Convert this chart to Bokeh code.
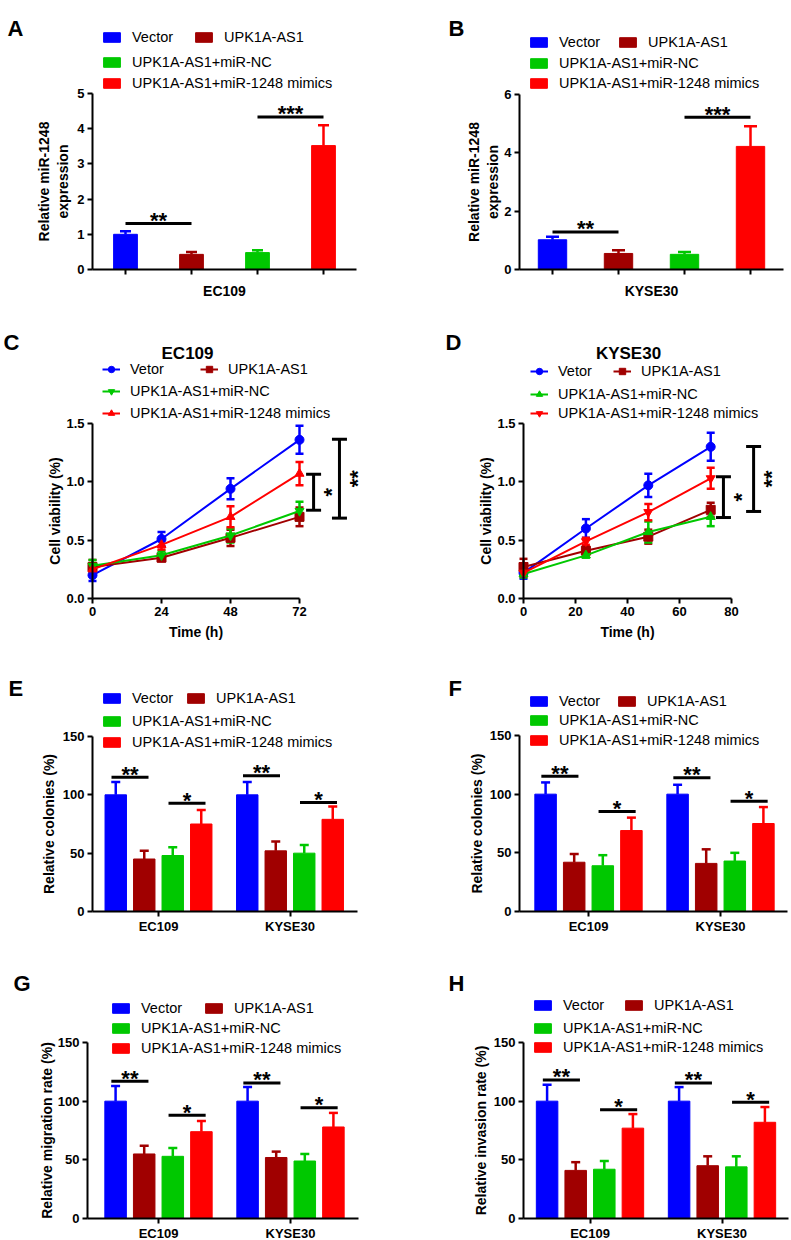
import math
from bokeh.plotting import figure
from bokeh.models import (Range1d, FixedTicker, Legend, LegendItem, Label,
                          Whisker, TeeHead, ColumnDataSource, NumeralTickFormatter)
from bokeh.layouts import column, row
from bokeh.embed import file_html
from bokeh.resources import INLINE
from bokeh.core.properties import value

FONT = "Liberation Sans"
COLORS = ["#0000FF", "#A00000", "#00C800", "#FF0000"]

# ------------------------------------------------------------------ data
treatments = ["Vector", "UPK1A-AS1", "UPK1A-AS1+miR-NC", "UPK1A-AS1+miR-1248 mimics"]
line_labels = ["Vetor", "UPK1A-AS1", "UPK1A-AS1+miR-NC", "UPK1A-AS1+miR-1248 mimics"]
cell_lines = ["EC109", "KYSE30"]

# A / B : relative miR-1248 expression (mean, SD)
A_mean = [1.00, 0.43, 0.48, 3.52]
A_sd = [0.09, 0.07, 0.07, 0.58]
A_sig = [(0, 1, 1.31, "**"), (2, 3, 4.33, "***")]
A_yticks = [0, 1, 2, 3, 4, 5]

B_mean = [1.02, 0.55, 0.52, 4.22]
B_sd = [0.10, 0.11, 0.08, 0.69]
B_sig = [(0, 1, 1.29, "**"), (2, 3, 5.22, "***")]
B_yticks = [0, 2, 4, 6]

# C / D : cell viability over time
hours = [0, 24, 48, 72]
C_vector = [0.20, 0.51, 0.94, 1.36]
C_vector_sd = [0.05, 0.06, 0.09, 0.12]
C_upk = [0.27, 0.35, 0.52, 0.70]
C_upk_sd = [0.06, 0.03, 0.07, 0.08]
C_nc = [0.28, 0.37, 0.54, 0.75]
C_nc_sd = [0.05, 0.04, 0.06, 0.08]
C_mimics = [0.25, 0.46, 0.70, 1.07]
C_mimics_sd = [0.05, 0.04, 0.09, 0.10]
C_brackets = [(76.9, 0.757, 1.066, "*"), (85.9, 0.689, 1.366, "**")]
C_xticks = [0, 24, 48, 72]

D_vector = [0.22, 0.60, 0.97, 1.30]
D_vector_sd = [0.05, 0.08, 0.10, 0.12]
D_upk = [0.27, 0.41, 0.53, 0.76]
D_upk_sd = [0.07, 0.03, 0.06, 0.06]
D_nc = [0.21, 0.37, 0.57, 0.70]
D_nc_sd = [0.03, 0.02, 0.09, 0.08]
D_mimics = [0.22, 0.49, 0.74, 1.03]
D_mimics_sd = [0.03, 0.03, 0.07, 0.09]
D_brackets = [(76.9, 0.694, 1.043, "*"), (88.5, 0.746, 1.303, "**")]
D_xticks = [0, 20, 40, 60, 80]
viab_yticks = [0, 0.5, 1.0, 1.5]

# E-H : grouped bars (per cell line: Vector, UPK1A-AS1, +miR-NC, +mimics)
E_ec109 = [100, 45, 48, 75]
E_ec109_sd = [11, 7, 7, 12]
E_kyse30 = [100, 52, 50, 79]
E_kyse30_sd = [11, 8, 7, 11]
E_sig = [(0, 0, 1, 115.0, "**"), (0, 2, 3, 92.7, "*"), (1, 0, 1, 116.3, "**"), (1, 2, 3, 93.5, "*")]

F_ec109 = [100, 42, 39, 69]
F_ec109_sd = [10, 7, 9, 11]
F_kyse30 = [100, 41, 43, 75]
F_kyse30_sd = [8, 12, 7, 14]
F_sig = [(0, 0, 1, 115.3, "**"), (0, 2, 3, 85.2, "*"), (1, 0, 1, 114.0, "**"), (1, 2, 3, 94.0, "*")]

G_ec109 = [100, 55, 53, 74]
G_ec109_sd = [13, 7, 7, 9]
G_kyse30 = [100, 52, 49, 78]
G_kyse30_sd = [12, 5, 6, 12]
G_sig = [(0, 0, 1, 117.0, "**"), (0, 2, 3, 88.0, "*"), (1, 0, 1, 115.5, "**"), (1, 2, 3, 94.4, "*")]

H_ec109 = [100, 41, 42, 77]
H_ec109_sd = [14, 7, 7, 12]
H_kyse30 = [100, 45, 44, 82]
H_kyse30_sd = [12, 8, 9, 13]
H_sig = [(0, 0, 1, 118.0, "**"), (0, 2, 3, 92.7, "*"), (1, 0, 1, 115.5, "**"), (1, 2, 3, 99.0, "*")]
pct_yticks = [0, 50, 100, 150]


# ------------------------------------------------------------------ helpers
class Geo:
    """Maps page pixels of a cell to data coordinates (frame == whole cell)."""

    def __init__(self, cell, xmap, ymap):
        self.cx, self.cy, self.cw, self.ch = cell
        pa, da, pb, db = xmap
        self.kx = (db - da) / (pb - pa)
        self.x0 = da - pa * self.kx
        qa, ea, qb, eb = ymap
        self.ky = (eb - ea) / (qb - qa)
        self.y0 = ea - qa * self.ky

    def dx(self, px):
        return self.x0 + px * self.kx

    def dy(self, py):
        return self.y0 + py * self.ky

    def xpp(self):
        return self.kx

    def ypp(self):
        return -self.ky

    def sx(self, px):
        return px - self.cx

    def sy(self, py):
        return self.cy + self.ch - py

    def xr(self):
        return (self.dx(self.cx), self.dx(self.cx + self.cw))

    def yr(self):
        return (self.dy(self.cy + self.ch), self.dy(self.cy))


def style_axis(ax):
    ax.axis_line_width = 2
    ax.axis_line_color = "black"
    ax.major_tick_line_width = 2
    ax.major_tick_line_color = "black"
    ax.major_tick_out = 5
    ax.major_tick_in = 0
    ax.minor_tick_line_color = None
    ax.major_label_text_font = FONT
    ax.major_label_text_font_style = "bold"
    ax.major_label_text_font_size = "13px"
    ax.major_label_text_color = "black"
    ax.major_label_standoff = 3
    ax.axis_label_text_font = FONT
    ax.axis_label_text_font_style = "bold"
    ax.axis_label_text_font_size = "14px"
    ax.axis_label_text_color = "black"


def make_fig(cell, xmap, ymap, yaxis_px, xaxis_bounds_px, ymax):
    g = Geo(cell, xmap, ymap)
    p = figure(width=g.cw, height=g.ch, x_range=Range1d(*g.xr()), y_range=Range1d(*g.yr()),
               output_backend="svg", toolbar_location=None, tools="",
               min_border_left=0, min_border_right=0, min_border_top=0, min_border_bottom=0)
    p.outline_line_color = None
    p.xgrid.visible = False
    p.ygrid.visible = False
    p.title.visible = False
    p.background_fill_color = "white"
    p.border_fill_color = "white"
    for ax in p.axis:
        style_axis(ax)
    p.yaxis.fixed_location = g.dx(yaxis_px)
    p.yaxis.bounds = (0, ymax)
    p.xaxis.fixed_location = 0
    p.xaxis.bounds = (g.dx(xaxis_bounds_px[0]), g.dx(xaxis_bounds_px[1]))
    return p, g


def add_letter(p, g, text, px, pybase):
    p.add_layout(Label(x=g.sx(px), y=g.sy(pybase), x_units="screen", y_units="screen",
                       text=text, text_font=FONT, text_font_size="22px", text_font_style="bold",
                       text_baseline="alphabetic", text_align="left", text_color="black"))


def add_legend_item(p, g, renderers, label, gx, cy, gw, gh, dy=0.0):
    leg = Legend(items=[LegendItem(label=label, renderers=renderers)],
                 location=(g.sx(gx), g.sy(cy + dy + gh / 2.0)),
                 orientation="vertical", padding=0, margin=0, spacing=0,
                 glyph_width=gw, glyph_height=gh, label_height=gh, label_standoff=10,
                 label_text_font=FONT, label_text_font_size="14.5px", label_text_color="black",
                 border_line_color=None, background_fill_alpha=0)
    p.add_layout(leg)


def add_stars(p, g, xs, ys, texts, size="22px"):
    p.text(x=xs, y=[y + 3.2 * g.ypp() for y in ys], text=texts,
           text_font=value(FONT), text_font_size=size, text_font_style="bold",
           text_align="center", text_baseline="alphabetic", text_color="black")


def whisker(p, xs, lo, hi, color, cap, lw=2.5, lower_cap=False):
    src = ColumnDataSource(dict(x=xs, lo=lo, hi=hi))
    w = Whisker(source=src, base="x", lower="lo", upper="hi", line_color=color, line_width=lw,
                upper_head=TeeHead(size=cap, line_color=color, line_width=lw),
                lower_head=TeeHead(size=cap, line_color=color, line_width=lw) if lower_cap else None)
    p.add_layout(w)


# ------------------------------------------------------------------ panels
def single_bar_panel(cell, xpx, ypx, mean, sd, sig, yticks, ylabel, xlabel, letter, legend_pos,
                     bar_w, cap, ylab_standoff):
    ymax = yticks[-1]
    p, g = make_fig(cell, (xpx[0], -0.5, xpx[1], 3.5), (ypx[0], 0, ypx[1], ymax),
                    xpx[0], xpx, ymax)
    rends = []
    for i, c in enumerate(COLORS):
        r = p.vbar(x=[i], top=[mean[i]], width=bar_w, fill_color=c, line_color=c)
        rends.append(r)
        whisker(p, [i], [mean[i]], [mean[i] + sd[i]], c, cap)
    for (i, j, y, s) in sig:
        p.segment(x0=[i], y0=[y], x1=[j], y1=[y], line_width=3, line_color="black")
    add_stars(p, g, [(s[0] + s[1]) / 2 for s in sig], [s[2] for s in sig], [s[3] for s in sig])
    p.yaxis.ticker = FixedTicker(ticks=yticks)
    p.yaxis.axis_label = ylabel
    p.yaxis.axis_label_standoff = ylab_standoff
    p.xaxis.ticker = FixedTicker(ticks=list(range(len(treatments))))
    p.xaxis.major_label_overrides = {i: "" for i in range(len(treatments))}
    p.xaxis.axis_label = xlabel
    p.xaxis.axis_label_standoff = 8
    add_letter(p, g, *letter)
    for k, (gx, cy) in enumerate(legend_pos):
        add_legend_item(p, g, [rends[k]], treatments[k], gx, cy, 21, 12, dy=3)
    return p


def grouped_bar_panel(cell, xmap, ypx, axis_px, ec, ec_sd, ky, ky_sd, sig, ylabel, letter, legend_pos,
                      ylab_standoff):
    ymax = pct_yticks[-1]
    p, g = make_fig(cell, xmap, (ypx[0], 0, ypx[1], ymax), axis_px[0], axis_px, ymax)
    off = 0.2167
    bw = 0.163
    means = [ec, ky]
    sds = [ec_sd, ky_sd]
    rends = []
    for t, c in enumerate(COLORS):
        xs = [gi + (t - 1.5) * off for gi in range(len(cell_lines))]
        tops = [means[gi][t] for gi in range(len(cell_lines))]
        r = p.vbar(x=xs, top=tops, width=bw, fill_color=c, line_color=c)
        rends.append(r)
        whisker(p, xs, tops, [tops[gi] + sds[gi][t] for gi in range(len(cell_lines))], c, 9)
    ext = 4.25 * g.xpp()
    x0s, x1s, ys, mids, labs = [], [], [], [], []
    for (gi, i, j, y, s) in sig:
        a = gi + (i - 1.5) * off
        b = gi + (j - 1.5) * off
        x0s.append(a - ext)
        x1s.append(b + ext)
        ys.append(y)
        mids.append((a + b) / 2)
        labs.append(s)
    p.segment(x0=x0s, y0=ys, x1=x1s, y1=ys, line_width=3, line_color="black")
    add_stars(p, g, mids, ys, labs)
    p.yaxis.ticker = FixedTicker(ticks=pct_yticks)
    p.yaxis.axis_label = ylabel
    p.yaxis.axis_label_standoff = ylab_standoff
    p.xaxis.ticker = FixedTicker(ticks=list(range(len(cell_lines))))
    p.xaxis.major_label_overrides = {i: n for i, n in enumerate(cell_lines)}
    p.xaxis.major_label_standoff = 2
    add_letter(p, g, *letter)
    for k, (gx, cy) in enumerate(legend_pos):
        add_legend_item(p, g, [rends[k]], treatments[k], gx, cy, 21, 12, dy=3)
    return p


def line_panel(cell, xmap, ypx, series, markers, brackets, xticks, title, title_pos, letter, legend_pos):
    ymax = viab_yticks[-1]
    g0 = Geo(cell, xmap, (ypx[0], 0, ypx[1], ymax))
    p, g = make_fig(cell, xmap, (ypx[0], 0, ypx[1], ymax), xmap[0],
                    (xmap[0], xmap[0] + (xticks[-1] - xmap[1]) / g0.xpp()), ymax)
    p.xaxis.bounds = (xticks[0], xticks[-1])
    rends = []
    for k, (m, s) in enumerate(series):
        c = COLORS[k]
        lr = p.line(hours, m, line_color=c, line_width=2)
        whisker(p, hours, [a - b for a, b in zip(m, s)], [a + b for a, b in zip(m, s)], c, 8,
                lw=2.5, lower_cap=True)
        sr = p.scatter(hours, m, marker=markers[k], size=9, fill_color=c, line_color=c)
        rends.append([lr, sr])
    bsrc = ColumnDataSource(dict(x=[b[0] for b in brackets], lo=[b[1] for b in brackets],
                                 hi=[b[2] for b in brackets]))
    p.add_layout(Whisker(source=bsrc, base="x", lower="lo", upper="hi", line_color="black",
                         line_width=3,
                         upper_head=TeeHead(size=15, line_color="black", line_width=3),
                         lower_head=TeeHead(size=15, line_color="black", line_width=3)))
    # rotated asterisks to the right of each bracket
    sx = [b[0] + 18.0 * g.xpp() for b in brackets]
    sy = [(b[1] + b[2]) / 2 for b in brackets]
    p.text(x=sx, y=sy, text=[b[3] for b in brackets], angle=math.pi / 2,
           text_font=value(FONT), text_font_size="22px", text_font_style="bold",
           text_align="center", text_baseline="alphabetic", text_color="black")
    p.yaxis.ticker = FixedTicker(ticks=viab_yticks)
    p.yaxis.formatter = NumeralTickFormatter(format="0.0")
    p.yaxis.axis_label = "Cell viability (%)"
    p.yaxis.axis_label_standoff = 0
    p.xaxis.ticker = FixedTicker(ticks=xticks)
    p.xaxis.axis_label = "Time (h)"
    p.xaxis.axis_label_standoff = 5
    p.add_layout(Label(x=g.sx(title_pos[0]), y=g.sy(title_pos[1]), x_units="screen", y_units="screen",
                       text=title, text_font=FONT, text_font_size="17px", text_font_style="bold",
                       text_align="center", text_baseline="middle", text_color="black"))
    add_letter(p, g, *letter)
    for k, (gx, cy) in enumerate(legend_pos):
        add_legend_item(p, g, rends[k], line_labels[k], gx, cy, 18, 16)
    return p


# cells (page px): columns and rows
colL = (0, 395)
colR = (395, 396)
rows_y = [(0, 310), (310, 345), (655, 290), (945, 295)]


def cell(col, r):
    return (col[0], rows_y[r][0], col[1], rows_y[r][1])


pA = single_bar_panel(cell(colL, 0), (92, 356), (269, 93), A_mean, A_sd, A_sig, A_yticks,
                      "Relative miR-1248\nexpression", "EC109", ("A", 7, 28),
                      [(101, 36), (193, 36), (101, 60.5), (101, 81.5)], 0.36, 11, 3)
pB = single_bar_panel(cell(colR, 0), (519, 783), (269, 94), B_mean, B_sd, B_sig, B_yticks,
                      "Relative miR-1248\nexpression", "KYSE30", ("B", 448, 28),
                      [(528, 41), (617, 41), (528, 62), (528, 81.5)], 0.43, 13, 0)

pC = line_panel(cell(colL, 1), (92, 0, 299, 72), (598, 423),
                [(C_vector, C_vector_sd), (C_upk, C_upk_sd), (C_nc, C_nc_sd), (C_mimics, C_mimics_sd)],
                ["circle", "square", "inverted_triangle", "triangle"],
                C_brackets, C_xticks, "EC109", (187, 353), ("C", 3, 342),
                [(102, 369), (200, 369), (102, 391), (102, 413)])
pD = line_panel(cell(colR, 1), (523, 0, 731, 80), (598, 423),
                [(D_vector, D_vector_sd), (D_upk, D_upk_sd), (D_nc, D_nc_sd), (D_mimics, D_mimics_sd)],
                ["circle", "square", "triangle", "inverted_triangle"],
                D_brackets, D_xticks, "KYSE30", (628, 353), ("D", 445, 342),
                [(530, 371), (613, 371), (530, 394), (530, 413)])

pE = grouped_bar_panel(cell(colL, 2), (158, 0, 289.5, 1), (911, 736), (92, 357),
                       E_ec109, E_ec109_sd, E_kyse30, E_kyse30_sd, E_sig, "Relative colonies (%)",
                       ("E", 8, 688), [(101, 697), (185, 697), (101, 720), (101, 741)], 3)
pF = grouped_bar_panel(cell(colR, 2), (588, 0, 720, 1), (911, 735), (519, 787),
                       F_ec109, F_ec109_sd, F_kyse30, F_kyse30_sd, F_sig, "Relative colonies (%)",
                       ("F", 448, 688), [(528, 700), (616, 700), (528, 719), (528, 739)], 2)
pG = grouped_bar_panel(cell(colL, 3), (158, 0, 290, 1), (1218, 1042), (87, 358),
                       G_ec109, G_ec109_sd, G_kyse30, G_kyse30_sd, G_sig, "Relative migration rate (%)",
                       ("G", 13, 983), [(110, 1007), (203, 1007), (110, 1027), (110, 1047)], 0)
pH = grouped_bar_panel(cell(colR, 3), (589.5, 0, 721.5, 1), (1218, 1042), (523, 788),
                       H_ec109, H_ec109_sd, H_kyse30, H_kyse30_sd, H_sig, "Relative invasion rate (%)",
                       ("H", 448, 983), [(532, 1004), (623, 1004), (532, 1027), (532, 1046)], 2)

layout = column(row(pA, pB), row(pC, pD), row(pE, pF), row(pG, pH))
open("out.html", "w").write(file_html(layout, INLINE))
